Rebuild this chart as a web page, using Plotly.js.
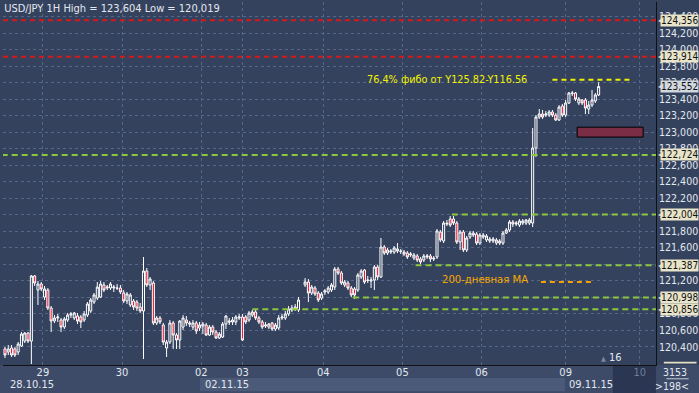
<!DOCTYPE html>
<html><head><meta charset="utf-8">
<script src="https://cdn.plot.ly/plotly-3.0.1.min.js"></script>
<style>html,body{margin:0;padding:0;background:#35425e;}#c{width:699px;height:393px;}</style>
</head><body><div id="c"></div>
<script>
// ---- data (USD/JPY 1H candles) ----
const openP = [120.374,120.337,120.386,120.374,120.337,120.410,120.470,120.567,120.470,121.258,
121.088,121.161,121.003,121.088,120.870,120.713,120.749,120.725,120.640,120.725,
120.785,120.749,120.773,120.761,120.725,120.785,120.834,120.943,120.991,121.003,
121.149,121.112,121.112,121.112,121.112,121.112,121.052,120.955,120.907,120.955,
120.943,120.882,120.834,121.318,121.149,121.173,120.689,120.749,120.664,120.386,
120.458,120.689,120.543,120.483,120.640,120.725,120.689,120.640,120.689,120.628,
120.652,120.664,120.543,120.640,120.579,120.507,120.519,120.676,120.713,120.701,
120.701,120.749,120.761,120.761,120.725,120.785,120.822,120.749,120.701,120.652,
120.640,120.689,120.616,120.628,120.749,120.749,120.798,120.846,120.858,120.846,
null,121.149,121.185,121.052,121.112,121.052,120.991,121.064,121.064,121.088,
121.124,121.342,121.294,121.149,121.173,121.112,121.100,121.088,121.246,121.330,
121.209,121.197,121.209,121.367,121.246,121.609,121.536,121.548,121.548,121.560,
121.560,121.548,121.536,121.512,121.476,121.500,121.464,121.451,121.488,121.500,
121.476,121.488,121.790,121.682,121.887,121.948,121.948,121.899,121.669,121.790,
121.573,121.730,121.754,121.766,121.657,121.730,121.694,121.682,121.682,121.657,
121.682,121.657,121.778,121.815,121.912,121.887,121.875,121.899,121.899,121.899,
121.899,122.808,123.183,123.219,123.207,123.207,123.244,123.207,123.147,123.316,
123.207,123.353,123.474,123.474,123.353,123.389,123.389,123.280,123.328,123.377,
123.450];
const highP = [120.398,120.422,120.422,120.398,120.458,120.579,120.579,120.579,121.270,121.270,
121.197,121.185,121.137,121.112,120.894,120.785,120.798,120.749,120.761,120.810,
120.822,120.822,120.810,120.785,120.834,120.943,120.991,121.052,121.185,121.197,
121.185,121.149,121.185,121.149,121.161,121.149,121.088,121.064,121.052,120.979,
120.967,120.931,121.488,121.355,121.246,121.197,120.773,120.773,120.689,120.483,
120.725,120.713,120.567,120.725,120.785,120.773,120.713,120.725,120.713,120.701,
120.701,120.689,120.664,120.664,120.604,120.579,120.701,120.785,120.749,120.761,
120.785,120.798,120.798,120.785,120.834,120.846,120.846,120.773,120.725,120.701,
120.689,120.701,120.689,120.785,120.798,120.834,120.894,120.907,120.919,121.003,
null,121.233,121.221,121.149,121.137,121.076,121.064,121.100,121.137,121.173,
121.367,121.367,121.318,121.209,121.197,121.137,121.124,121.294,121.342,121.342,
121.258,121.246,121.391,121.391,121.718,121.633,121.597,121.585,121.621,121.657,
121.585,121.573,121.560,121.548,121.536,121.524,121.488,121.524,121.524,121.524,
121.500,121.827,121.815,121.924,121.936,121.984,121.984,121.924,121.815,121.815,
121.742,121.803,121.803,121.790,121.778,121.778,121.766,121.730,121.730,121.718,
121.706,121.803,121.839,121.936,121.936,121.924,121.948,121.948,121.948,121.960,
123.050,123.207,123.280,123.268,123.256,123.268,123.268,123.232,123.328,123.341,
123.389,123.486,123.498,123.486,123.425,123.401,123.413,123.377,123.510,123.474,
123.604];
const lowP = [120.265,120.301,120.277,120.277,120.301,120.398,120.446,120.446,120.192,121.137,
120.907,121.076,120.967,120.846,120.579,120.689,120.701,120.579,120.616,120.701,
120.749,120.725,120.676,120.628,120.701,120.761,120.810,120.919,120.967,120.991,
121.064,121.088,121.088,121.064,121.088,121.040,120.931,120.919,120.882,120.846,
120.834,120.810,120.253,121.124,121.088,120.664,120.664,120.676,120.422,120.277,
120.434,120.374,120.374,120.374,120.604,120.652,120.640,120.604,120.555,120.592,
120.555,120.531,120.531,120.543,120.495,120.495,120.507,120.616,120.664,120.664,
120.664,120.725,120.470,120.676,120.701,120.761,120.725,120.676,120.616,120.628,
120.616,120.592,120.592,120.604,120.725,120.725,120.773,120.822,120.834,120.822,
null,121.124,120.943,121.028,121.016,120.943,120.967,121.028,121.040,121.064,
121.088,121.270,121.149,121.124,121.088,121.003,120.979,121.064,121.221,121.161,
121.173,121.112,121.088,121.209,121.233,121.512,121.512,121.524,121.524,121.536,
121.524,121.500,121.464,121.488,121.451,121.427,121.403,121.427,121.464,121.427,
121.439,121.464,121.669,121.657,121.863,121.851,121.875,121.645,121.573,121.548,
121.548,121.706,121.730,121.633,121.633,121.706,121.669,121.657,121.657,121.633,
121.633,121.633,121.766,121.790,121.851,121.863,121.851,121.875,121.875,121.875,
121.851,122.699,123.159,123.159,123.183,123.183,123.183,123.135,123.135,123.183,
123.183,123.341,123.437,123.377,123.328,123.328,123.219,123.219,123.304,123.353,
123.437];
const closeP = [120.301,120.374,120.301,120.301,120.434,120.555,120.567,120.470,121.258,121.173,
121.161,121.100,121.100,120.870,120.713,120.749,120.761,120.640,120.737,120.785,
120.798,120.810,120.713,120.701,120.798,120.919,120.967,121.028,121.124,121.161,
121.088,121.124,121.161,121.124,121.110,121.064,120.955,121.040,121.028,120.882,
120.870,120.834,121.318,121.149,121.221,120.689,120.749,120.701,120.458,120.458,
120.689,120.543,120.483,120.713,120.749,120.689,120.676,120.689,120.592,120.664,
120.676,120.543,120.640,120.579,120.507,120.555,120.676,120.773,120.701,120.725,
120.761,120.761,120.483,120.701,120.810,120.822,120.749,120.701,120.640,120.664,
120.676,120.616,120.664,120.749,120.761,120.798,120.858,120.870,120.882,120.967,
null,121.185,121.052,121.124,121.040,120.967,121.040,121.076,121.112,121.149,
121.342,121.294,121.173,121.185,121.112,121.028,121.028,121.270,121.318,121.185,
121.205,121.209,121.367,121.246,121.609,121.536,121.573,121.560,121.597,121.585,
121.556,121.524,121.488,121.524,121.512,121.451,121.427,121.500,121.500,121.464,
121.466,121.803,121.694,121.899,121.895,121.875,121.899,121.669,121.790,121.573,
121.718,121.778,121.778,121.657,121.754,121.754,121.742,121.706,121.706,121.694,
121.657,121.778,121.815,121.912,121.887,121.899,121.924,121.924,121.936,121.936,
122.808,123.183,123.219,123.183,123.219,123.244,123.207,123.147,123.304,123.207,
123.353,123.474,123.470,123.401,123.401,123.353,123.292,123.328,123.389,123.450,
123.552];

// day labels at the hour index where each day begins
const dayTickPos  = [11.5, 35.5, 59.5, 72, 96.5, 120.5, 144.5, 170, 192.5];
const dayTickText = ["29","30","02","03","04","05","06","09","10"];
const dateLabels  = ["28.10.15","02.11.15","09.11.15"];

// horizontal levels
const redLevels   = [124.356, 123.914];
const greenLevels = [122.724, 122.004, 121.387, 120.998, 120.856];
const greenStart  = [-1, 135.5, 124.5, 105.5, 75];
const fiboLevel = 123.635, fiboStart = 166, fiboEnd = 189.5;
const maLevel = 121.185, maStart = 162.5, maEnd = 178.5;
const zoneLow = 122.94, zoneHigh = 123.06, zoneStart = 173.5, zoneEnd = 193.5;
const tagLevels = [124.356, 123.914, 123.552, 122.724, 122.004, 121.387, 120.998, 120.856];
const yTicks = [120.4,120.6,120.8,121.0,121.2,121.4,121.6,121.8,122.0,122.2,122.4,122.6,122.8,123.0,123.2,123.4,123.6,123.8,124.0,124.2,124.4];
const barsCount = "3153", barsShown = ">198<";

const hours = openP.map((_, i) => i);
const X0 = -0.6, X1 = 197.4;
const BG = '#35425e';
const FONT = 'Liberation Sans Narrow, DejaVu Sans Condensed, Liberation Sans, Arial';
const TXT = '#e3e8ef';
const fmt = v => v.toFixed(3).replace('.', ',');
const esc = s => s.replace(/</g,'&lt;').replace(/>/g,'&gt;');

const shapes = [];
// bottom band
shapes.push({type:'rect', xref:'paper', yref:'paper', x0:-0.01, x1:1.07, y0:-0.08, y1:0, fillcolor:'#3d4b69', line:{width:0}, layer:'below'});
shapes.push({type:'rect', xref:'paper', yref:'paper', x0:0.3017, x1:0.8606, y0:-0.072, y1:-0.036, fillcolor:'#4b5a78', line:{width:0}, layer:'below'});
shapes.push({type:'rect', xref:'paper', yref:'paper', x0:0.934, x1:1.0, y0:-0.08, y1:0, fillcolor:'#2a3652', line:{width:0}, layer:'below'});
shapes.push({type:'line', xref:'paper', yref:'paper', x0:1.016, x1:1.05, y0:-0.038, y1:-0.038, line:{color:'#c8cfda', width:1}});
shapes.push({type:'rect', xref:'paper', yref:'paper', x0:1.012, x1:1.062, y0:0.004, y1:0.009, fillcolor:'#e4e0c4', line:{width:0}});
redLevels.forEach(v => shapes.push({type:'line', xref:'x', yref:'y', x0:X0, x1:X1, y0:v, y1:v, line:{color:'#d81818', width:2, dash:'5px,4px'}}));
greenLevels.forEach((v, k) => shapes.push({type:'line', xref:'x', yref:'y', x0:greenStart[k], x1:X1, y0:v, y1:v, line:{color:'#8cc63f', width:2, dash:'6px,4px'}}));
shapes.push({type:'line', xref:'x', yref:'y', x0:fiboStart, x1:fiboEnd, y0:fiboLevel, y1:fiboLevel, line:{color:'#f0f000', width:2, dash:'5px,4px'}});
shapes.push({type:'line', xref:'x', yref:'y', x0:maStart, x1:maEnd, y0:maLevel, y1:maLevel, line:{color:'#f5a000', width:2, dash:'5px,4px'}});
shapes.push({type:'rect', xref:'x', yref:'y', x0:zoneStart, x1:zoneEnd, y0:zoneLow, y1:zoneHigh, fillcolor:'#7a2d44', line:{color:'#000', width:1}});

const annotations = [];
tagLevels.forEach(v => {
  const cur = Math.abs(v - closeP[closeP.length-1]) < 1e-6;
  const col = cur ? '#d3d8e0' : '#e8e4c9';
  annotations.push({xref:'paper', yref:'y', x:1.0005, y:v, xanchor:'left', yanchor:'middle', text:'◀', showarrow:false,
    font:{family:'DejaVu Sans', size:8, color:col}});
  annotations.push({xref:'paper', yref:'y', x:1.0068, y:v, xanchor:'left', yanchor:'middle', text:fmt(v), showarrow:false,
    bgcolor:col, borderpad:0, font:{family:FONT, size:10, color:'#111'}});
});
annotations.push({xref:'x', yref:'y', x:109.2, y:fiboLevel, xanchor:'left', yanchor:'middle', showarrow:false,
  text:'76,4% фибо от Y125.82-Y116.56', font:{family:FONT, size:10.8, color:'#f2f200'}});
annotations.push({xref:'x', yref:'y', x:132, y:maLevel + 0.03, xanchor:'left', yanchor:'middle', showarrow:false,
  text:'200-дневная MA', font:{family:FONT, size:11.2, color:'#f5a800'}});
const dateX = [0.008, 0.306, 0.864];
dateLabels.forEach((t, k) => annotations.push({xref:'paper', yref:'paper', x:dateX[k], y:-0.054, xanchor:'left', yanchor:'middle',
  showarrow:false, text:t, font:{family:FONT, size:11, color:TXT}}));
annotations.push({xref:'paper', yref:'paper', x:1.0505, y:-0.019, xanchor:'right', yanchor:'middle', showarrow:false,
  text:esc(barsCount), font:{family:FONT, size:10.5, color:TXT}});
annotations.push({xref:'paper', yref:'paper', x:1.0535, y:-0.058, xanchor:'right', yanchor:'middle', showarrow:false,
  text:esc(barsShown), font:{family:FONT, size:10.5, color:TXT}});
annotations.push({xref:'paper', yref:'paper', x:0.932, y:0.02, xanchor:'center', yanchor:'middle', showarrow:false,
  text:'<span style="color:#7b869b;font-size:7px">▲</span> 16', font:{family:FONT, size:11, color:TXT}});

const trace = {
  type:'candlestick', x:hours, open:openP, high:highP, low:lowP, close:closeP,
  increasing:{line:{color:'#ffffff', width:1}, fillcolor:BG},
  decreasing:{line:{color:'#ffffff', width:1}, fillcolor:'#e8102e'},
  whiskerwidth:0, hoverinfo:'skip', showlegend:false
};

const layout = {
  width:699, height:393, margin:{l:3, r:43, t:2, b:28},
  paper_bgcolor:BG, plot_bgcolor:BG, separators:',.', showlegend:false, boxgap:0.12,
  title:{text:'USD/JPY 1H High = 123,604 Low = 120,019', x:0.006, xanchor:'left', y:0.979, yanchor:'middle',
    font:{family:FONT, size:11, color:TXT}},
  xaxis:{range:[X0, X1], tickmode:'array', tickvals:dayTickPos,
    ticktext:dayTickText.map((t,k)=> k===dayTickText.length-1 ? '<span style="color:#6f7e9a">'+t+'</span>' : t),
    showgrid:true, gridcolor:'#56668a', griddash:'3px,3px', gridwidth:1, ticks:'', ticklabelstandoff:-3,
    showline:true, linecolor:'#111', linewidth:1,
    tickfont:{family:FONT, size:11, color:TXT}, rangeslider:{visible:false}, zeroline:false, fixedrange:true},
  yaxis:{side:'right', range:[120.18, 124.576], tickmode:'array', tickvals:yTicks, tickformat:'.3f',
    showgrid:true, gridcolor:'#56668a', griddash:'3px,3px', gridwidth:1, ticks:'', ticklabelstandoff:0,
    showline:true, linecolor:'#111', linewidth:1, zeroline:false,
    tickfont:{family:FONT, size:10.5, color:TXT}},
  shapes:shapes, annotations:annotations
};
Plotly.newPlot('c', [trace], layout, {staticPlot:true, displayModeBar:false});
</script></body></html>
